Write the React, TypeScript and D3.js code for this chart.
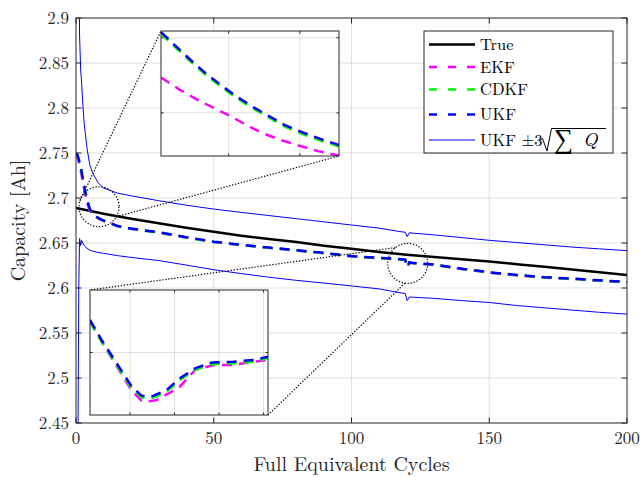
import * as d3 from "d3";

// main plot data (capacity in Ah vs full equivalent cycles)
const cycles = [0, 0.5, 1, 1.3, 1.7, 2, 2.5, 3, 4, 5, 6, 8, 10, 15, 20, 30, 40, 50, 60, 70, 80, 90, 100, 110, 118, 119.5, 120.2, 121, 122, 130, 140, 150, 160, 170, 180, 190, 200];
const ukf = [2.750, 2.748, 2.743, 2.739, 2.735, 2.730, 2.721, 2.713, 2.698, 2.688, 2.683, 2.678, 2.675, 2.669, 2.666, 2.662, 2.6565, 2.6515, 2.648, 2.645, 2.642, 2.639, 2.6355, 2.6335, 2.632, 2.6315, 2.6235, 2.6285, 2.628, 2.626, 2.6215, 2.6175, 2.6145, 2.612, 2.6105, 2.6085, 2.6067];
const ekf = [2.749, 2.746, 2.740, 2.736, 2.731, 2.726, 2.717, 2.709, 2.695, 2.686, 2.682, 2.677, 2.6745, 2.6686, 2.6656, 2.6616, 2.6561, 2.6511, 2.6476, 2.6446, 2.6416, 2.6386, 2.6351, 2.6331, 2.6316, 2.6311, 2.6225, 2.628, 2.6276, 2.6256, 2.6211, 2.6171, 2.6141, 2.6116, 2.6101, 2.6081, 2.6063];
const cdkf = [2.7497, 2.7474, 2.7423, 2.7383, 2.7343, 2.7292, 2.7203, 2.7124, 2.6976, 2.6877, 2.6827, 2.6777, 2.6747, 2.6687, 2.6657, 2.6617, 2.6562, 2.6512, 2.6477, 2.6447, 2.6417, 2.6387, 2.6352, 2.6332, 2.6317, 2.6312, 2.623, 2.6282, 2.6277, 2.6257, 2.6212, 2.6172, 2.6142, 2.6117, 2.6102, 2.6082, 2.6064];
const ukfUpper = [3.5, 3.3, 3.0, 2.88, 2.842, 2.830, 2.803, 2.782, 2.755, 2.737, 2.728, 2.717, 2.711, 2.7055, 2.7025, 2.697, 2.692, 2.6877, 2.684, 2.6805, 2.677, 2.6735, 2.670, 2.6665, 2.6625, 2.662, 2.657, 2.6615, 2.661, 2.659, 2.656, 2.653, 2.6505, 2.648, 2.6455, 2.6435, 2.6415];
const ukfLower = [2.0, 2.3, 2.60, 2.655, 2.647, 2.653, 2.650, 2.647, 2.644, 2.642, 2.641, 2.6395, 2.6385, 2.636, 2.634, 2.6305, 2.6255, 2.6203, 2.616, 2.612, 2.6085, 2.6055, 2.6023, 2.599, 2.5945, 2.594, 2.586, 2.590, 2.5898, 2.5885, 2.586, 2.5839, 2.5805, 2.578, 2.5755, 2.573, 2.571];

const trueCycles = [0, 10, 20, 30, 40, 50, 60, 70, 80, 90, 100, 110, 120, 130, 140, 150, 160, 170, 180, 190, 200];
const trueCap = [2.689, 2.6825, 2.677, 2.672, 2.667, 2.6625, 2.658, 2.6545, 2.651, 2.647, 2.6435, 2.640, 2.637, 2.6345, 2.632, 2.6295, 2.6265, 2.6235, 2.6205, 2.6175, 2.6145];

const xTicks = [0, 50, 100, 150, 200];
const yTicks = [2.45, 2.5, 2.55, 2.6, 2.65, 2.7, 2.75, 2.8, 2.85, 2.9];

// top inset (early drop)
const topX = [1.05, 1.283, 1.47, 1.68, 1.89, 2.10, 2.32, 2.56, 2.79, 3.05, 3.28, 3.55];
const topUkf = [2.7415, 2.7373, 2.734, 2.7305, 2.7274, 2.7245, 2.7218, 2.7192, 2.7167, 2.7147, 2.7131, 2.7114];
const topCdkf = [2.7411, 2.7369, 2.7336, 2.7301, 2.727, 2.7241, 2.7214, 2.7188, 2.7163, 2.7143, 2.7127, 2.711];
const topEkfX = [1.05, 1.31, 1.55, 1.79, 2.02, 2.25, 2.49, 2.74, 3.0, 3.255, 3.55];
const topEkf = [2.7294, 2.7262, 2.7236, 2.7213, 2.7192, 2.7167, 2.7145, 2.7127, 2.7112, 2.7098, 2.7086];

// bottom inset (dip near 120 cycles)
const botX = [119.55, 119.68, 119.79, 119.91, 120.02, 120.13, 120.24, 120.41, 120.56, 120.73, 120.92, 121.16, 121.39, 121.55];
const botUkf = [2.6339, 2.6315, 2.6297, 2.6277, 2.6259, 2.6248, 2.6247, 2.6255, 2.6269, 2.6281, 2.6288, 2.6289, 2.6291, 2.6295];
const botCdkf = [2.6337, 2.6313, 2.6295, 2.6275, 2.6257, 2.6246, 2.6245, 2.6253, 2.6267, 2.6279, 2.6286, 2.6287, 2.6289, 2.6293];
const botEkfX = [119.55, 119.68, 119.79, 119.91, 120.02, 120.13, 120.19, 120.3, 120.45, 120.56, 120.73, 120.94, 121.16, 121.39, 121.55];
const botEkf = [2.6337, 2.6313, 2.6294, 2.6273, 2.6254, 2.6242, 2.6241, 2.6243, 2.6252, 2.6259, 2.6279, 2.6285, 2.6285, 2.6289, 2.6291];

const FONT = "'Latin Modern Roman', 'CMU Serif', 'Liberation Serif', serif";
const AX = "#262626";
const GRID = "#dfdfdf";
const DASH = "10,7";

type Pt = [number, number];
const zip = (xs: number[], ys: number[]): Pt[] => xs.map((v, i) => [v, ys[i]]);

function Inset({ id, box, xDomain, yDomain, xT, yT, series }: {
  id: string;
  box: { x: number; y: number; w: number; h: number };
  xDomain: [number, number];
  yDomain: [number, number];
  xT: number[];
  yT: number[];
  series: { pts: Pt[]; color: string }[];
}) {
  const sx = d3.scaleLinear().domain(xDomain).range([box.x, box.x + box.w]);
  const sy = d3.scaleLinear().domain(yDomain).range([box.y + box.h, box.y]);
  const line = d3.line<Pt>().x((d) => sx(d[0])).y((d) => sy(d[1]));
  const tl = 2.5;
  return (
    <g>
      <clipPath id={id}>
        <rect x={box.x} y={box.y} width={box.w} height={box.h} />
      </clipPath>
      <rect x={box.x} y={box.y} width={box.w} height={box.h} fill="#fff" />
      {xT.map((t) => (
        <line key={"gx" + t} x1={sx(t)} x2={sx(t)} y1={box.y} y2={box.y + box.h} stroke={GRID} />
      ))}
      {yT.map((t) => (
        <line key={"gy" + t} x1={box.x} x2={box.x + box.w} y1={sy(t)} y2={sy(t)} stroke={GRID} />
      ))}
      <g clipPath={`url(#${id})`}>
        {series.map((s, i) => (
          <path key={i} d={line(s.pts) ?? ""} fill="none" stroke={s.color} strokeWidth={2.5} strokeDasharray={DASH} />
        ))}
      </g>
      {xT.map((t) => (
        <g key={"tx" + t} stroke={AX}>
          <line x1={sx(t)} x2={sx(t)} y1={box.y + box.h} y2={box.y + box.h - tl} />
          <line x1={sx(t)} x2={sx(t)} y1={box.y} y2={box.y + tl} />
        </g>
      ))}
      {yT.map((t) => (
        <g key={"ty" + t} stroke={AX}>
          <line x1={box.x} x2={box.x + tl} y1={sy(t)} y2={sy(t)} />
          <line x1={box.x + box.w} x2={box.x + box.w - tl} y1={sy(t)} y2={sy(t)} />
        </g>
      ))}
      <rect x={box.x} y={box.y} width={box.w} height={box.h} fill="none" stroke={AX} strokeWidth={1} />
    </g>
  );
}

export default function App() {
  const W = 642, H = 477;
  const m = { left: 76, top: 18, right: 627, bottom: 423 };
  const x = d3.scaleLinear().domain([0, 200]).range([m.left, m.right]);
  const y = d3.scaleLinear().domain([2.45, 2.9]).range([m.bottom, m.top]);
  const line = d3.line<Pt>().x((d) => x(d[0])).y((d) => y(d[1]));
  const tl = 5.5;

  const topBox = { x: 161, y: 31, w: 178, h: 125 };
  const botBox = { x: 90, y: 290, w: 178, h: 125 };

  // zoom circles (data centre, px radius) and the angles where the connectors leave them
  const c1 = { cx: x(8.35), cy: y(2.6903), r: 20 };
  const c2 = { cx: x(120.4), cy: y(2.6274), r: 20 };
  const onC = (c: { cx: number; cy: number; r: number }, deg: number): Pt => [
    c.cx + c.r * Math.cos((deg * Math.PI) / 180),
    c.cy + c.r * Math.sin((deg * Math.PI) / 180),
  ];
  const connectors: [Pt, Pt][] = [
    [onC(c1, 197), [topBox.x, topBox.y]],
    [onC(c1, 30), [topBox.x + topBox.w, topBox.y + topBox.h]],
    [onC(c2, 232), [botBox.x, botBox.y]],
    [onC(c2, 98), [botBox.x + botBox.w, botBox.y + botBox.h]],
  ];

  const legendRows = [
    { label: "True", color: "#000", dash: undefined, w: 2.5, y: 44.5 },
    { label: "EKF", color: "#ff00ff", dash: "8,11", w: 2.5, y: 67 },
    { label: "CDKF", color: "#00ff00", dash: "8,11", w: 2.5, y: 89.5 },
    { label: "UKF", color: "#0000ff", dash: "8,11", w: 2.5, y: 114.5 },
  ];

  return (
    <svg width={W} height={H} style={{ position: "absolute", left: 0, top: 0, background: "#fff" }} fontFamily={FONT}>
      <defs>
        <clipPath id="main-clip">
          <rect x={m.left} y={m.top} width={m.right - m.left} height={m.bottom - m.top} />
        </clipPath>
      </defs>
      <rect width={W} height={H} fill="#fff" />

      {/* grid */}
      {xTicks.slice(1, -1).map((t) => (
        <line key={"gx" + t} x1={x(t)} x2={x(t)} y1={m.top} y2={m.bottom} stroke={GRID} />
      ))}
      {yTicks.slice(1, -1).map((t) => (
        <line key={"gy" + t} x1={m.left} x2={m.right} y1={y(t)} y2={y(t)} stroke={GRID} />
      ))}

      {/* data */}
      <g clipPath="url(#main-clip)" fill="none">
        <path d={line(zip(trueCycles, trueCap)) ?? ""} stroke="#000" strokeWidth={2.5} />
        <path d={line(zip(cycles, ekf)) ?? ""} stroke="#ff00ff" strokeWidth={2.5} strokeDasharray={DASH} />
        <path d={line(zip(cycles, cdkf)) ?? ""} stroke="#00ff00" strokeWidth={2.5} strokeDasharray={DASH} />
        <path d={line(zip(cycles, ukf)) ?? ""} stroke="#0000ff" strokeWidth={2.5} strokeDasharray={DASH} />
        <path d={line(zip(cycles, ukfUpper)) ?? ""} stroke="#0000ff" strokeWidth={1} />
        <path d={line(zip(cycles, ukfLower)) ?? ""} stroke="#0000ff" strokeWidth={1} />
      </g>

      {/* zoom circles + connectors */}
      <g fill="none" stroke="#000" strokeWidth={1.2} strokeDasharray="1.3,1.7">
        <circle cx={c1.cx} cy={c1.cy} r={c1.r} />
        <circle cx={c2.cx} cy={c2.cy} r={c2.r} />
        {connectors.map(([a, b], i) => (
          <line key={i} x1={a[0]} y1={a[1]} x2={b[0]} y2={b[1]} />
        ))}
      </g>

      {/* axes box + ticks */}
      {xTicks.map((t) => (
        <g key={"tx" + t} stroke={AX}>
          <line x1={x(t)} x2={x(t)} y1={m.bottom} y2={m.bottom - tl} />
          <line x1={x(t)} x2={x(t)} y1={m.top} y2={m.top + tl} />
        </g>
      ))}
      {yTicks.map((t) => (
        <g key={"ty" + t} stroke={AX}>
          <line x1={m.left} x2={m.left + tl} y1={y(t)} y2={y(t)} />
          <line x1={m.right} x2={m.right - tl} y1={y(t)} y2={y(t)} />
        </g>
      ))}
      <rect x={m.left} y={m.top} width={m.right - m.left} height={m.bottom - m.top} fill="none" stroke={AX} />

      {/* insets */}
      <Inset
        id="inset-top"
        box={topBox}
        xDomain={[1.05, 3.55]}
        yDomain={[2.7085, 2.7418]}
        xT={[2, 3]}
        yT={[2.72, 2.74]}
        series={[
          { pts: zip(topEkfX, topEkf), color: "#ff00ff" },
          { pts: zip(topX, topCdkf), color: "#00ff00" },
          { pts: zip(topX, topUkf), color: "#0000ff" },
        ]}
      />
      <Inset
        id="inset-bot"
        box={botBox}
        xDomain={[119.55, 121.55]}
        yDomain={[2.6225, 2.6375]}
        xT={[120, 120.5, 121, 121.5]}
        yT={[2.63]}
        series={[
          { pts: zip(botEkfX, botEkf), color: "#ff00ff" },
          { pts: zip(botX, botCdkf), color: "#00ff00" },
          { pts: zip(botX, botUkf), color: "#0000ff" },
        ]}
      />

      {/* tick labels */}
      <g fontSize={17} fill="#262626">
        {xTicks.map((t) => (
          <text key={"lx" + t} x={x(t)} y={444} textAnchor="middle">{t}</text>
        ))}
        {yTicks.map((t) => (
          <text key={"ly" + t} x={69} y={y(t)} dy="0.35em" textAnchor="end">{t}</text>
        ))}
      </g>
      <text x={(m.left + m.right) / 2} y={471} textAnchor="middle" fontSize={20} fill="#262626">Full Equivalent Cycles</text>
      <text transform={`translate(25,${(m.top + m.bottom) / 2}) rotate(-90)`} textAnchor="middle" fontSize={20} fill="#262626">Capacity [Ah]</text>

      {/* legend */}
      <g>
        <rect x={424} y={31} width={189} height={122} fill="#fff" stroke={AX} />
        {legendRows.map((r) => (
          <g key={r.label}>
            <line x1={429} x2={475} y1={r.y} y2={r.y} stroke={r.color} strokeWidth={r.w} strokeDasharray={r.dash} />
            <text x={480} y={r.y} dy="0.35em" fontSize={16.5} fill="#000">{r.label}</text>
          </g>
        ))}
        <line x1={429} x2={475} y1={140} y2={140} stroke="#0000ff" strokeWidth={1} />
        <text x={480} y={140} dy="0.35em" fontSize={16.5} fill="#000">UKF ±3</text>
        <path d="M539,141 L542.5,138.5 L547,151 L551.5,128.5 L606,128.5" fill="none" stroke="#000" strokeWidth={1} />
        <text x={554} y={148} fontSize={27} fill="#000">∑</text>
        <text x={583} y={146} fontSize={19} fontStyle="italic" fill="#000">Q</text>
      </g>
    </svg>
  );
}
